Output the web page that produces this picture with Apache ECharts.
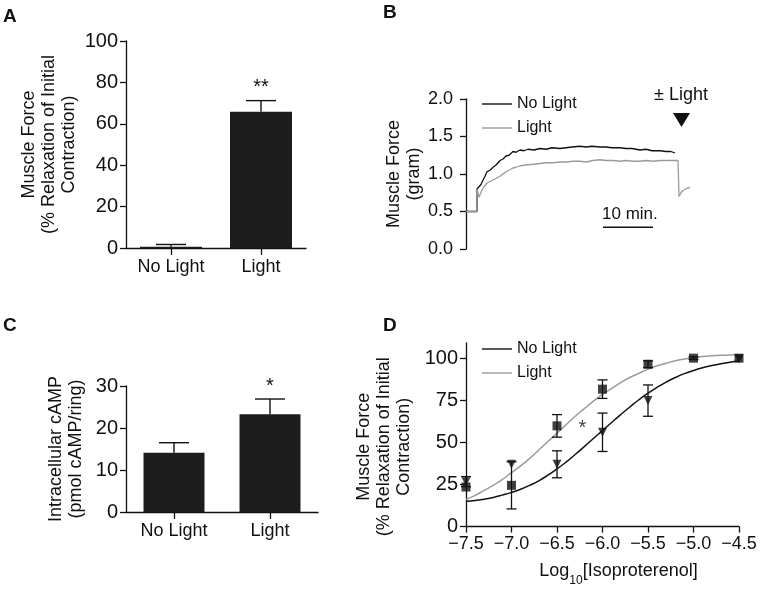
<!DOCTYPE html>
<html><head><meta charset="utf-8">
<script src="https://cdn.jsdelivr.net/npm/echarts@6/dist/echarts.min.js"></script>
<style>html,body{margin:0;padding:0;background:#fff}#c{width:767px;height:589px}</style>
</head><body><div id="c"></div><script>
const FONT = '"Liberation Sans", Arial, Helvetica, sans-serif';
const INK = '#111';
const GRAY = '#9a9a9a';

// Panel A
const categories = ['No Light', 'Light'];
const relaxMean = [0.6, 65.8];
const relaxSem = [1.1, 5.4];
const relaxSig = ['', '**'];

// Panel B (time in minutes, force in gram)
const traceTimeNoLight = [0,1.0,2.2,2.2,2.6,3.0,3.4,3.8,4.2,4.8,5.4,6.0,6.8,7.4,8.0,8.6,9.4,10.0,10.8,11.6,12.4,13.6,14.8,16.0,17.2,18.8,20.0,21.2,22.8,24.0,25.2,26.8,28.0,29.2,30.8,32.0,33.2,34.8,36.0,37.2,38.8,40.0,41.0,41.8];
const traceNoLight = [0.50,0.50,0.50,0.80,0.81,0.86,0.92,0.97,1.03,1.05,1.09,1.12,1.18,1.20,1.24,1.25,1.30,1.29,1.32,1.31,1.33,1.32,1.34,1.33,1.35,1.34,1.35,1.36,1.37,1.36,1.37,1.36,1.36,1.35,1.35,1.34,1.34,1.32,1.33,1.31,1.31,1.30,1.30,1.28];
const traceTimeLight = [0,1.0,2.2,2.2,2.6,3.2,3.6,4.2,4.8,5.4,6.0,6.8,7.4,8.0,8.6,9.4,10.0,10.8,12.0,13.4,14.8,16.0,17.4,18.8,20.0,21.4,22.8,24.0,25.4,26.8,28.0,29.4,30.8,32.0,33.4,34.8,36.0,37.4,38.8,40.0,41.4,42.4,42.6,43.0,43.4,44.2,44.8];
const traceLight = [0.50,0.50,0.50,0.80,0.69,0.79,0.83,0.88,0.90,0.92,0.94,0.97,1.00,1.03,1.05,1.08,1.09,1.11,1.12,1.13,1.14,1.15,1.15,1.16,1.16,1.17,1.17,1.16,1.18,1.19,1.18,1.18,1.17,1.18,1.17,1.17,1.18,1.17,1.18,1.18,1.18,1.18,0.70,0.75,0.78,0.81,0.82];
const scaleBarTime = [27.4, 37.4];
const scaleBarLevel = 0.29;

// Panel C
const campMean = [14.1, 23.3];
const campSem = [2.4, 3.6];
const campSig = ['', '*'];

// Panel D
const logConc = [-7.5, -7.0, -6.5, -6.0, -5.5, -5.0, -4.5];
const lightMean = [23.5, 24.5, 59.8, 81.6, 96.4, 100.0, 100.0];
const lightSem = [0, 14.0, 6.7, 5.5, 2.0, 0.8, 0];
const noLightMean = [26.7, 37.0, 37.0, 56.0, 74.8, null, 99.5];
const noLightSem = [3.0, 0, 8.0, 11.4, 9.3, null, 0];
const fitX = [-7.5,-7.4,-7.3,-7.2,-7.1,-7.0,-6.9,-6.8,-6.7,-6.6,-6.5,-6.4,-6.3,-6.2,-6.1,-6.0,-5.9,-5.8,-5.7,-5.6,-5.5,-5.4,-5.3,-5.2,-5.1,-5.0,-4.9,-4.8,-4.7,-4.6,-4.5];
const fitLight = [16,18.5,21.5,24.5,28,32,36,40.5,45.5,50.5,55.5,60.5,65.5,70,74.5,78.5,82,85.5,88.5,91,93.5,95.5,97,98.5,99.5,100.3,101,101.4,101.7,101.9,102];
const fitNoLight = [15,15.5,16.3,17.3,18.7,20.3,22.2,24.5,27.2,30.5,34.2,38.3,42.8,47.5,52.3,57,61.8,66.5,71,75.3,79.2,82.7,85.8,88.5,90.8,92.7,94.3,95.6,96.7,97.6,98.3];
const pctTicks = [0, 25, 50, 75, 100];
const starD = [-6.22, 58];

const chart = echarts.init(document.getElementById('c'), null, {renderer: 'canvas'});

const axisLine = {show: true, lineStyle: {color: INK, width: 1.3}};
const axisTickOut = {show: true, length: 6, lineStyle: {color: INK, width: 1.3}};

function barErr(sig, capHalf) {
  return function (params, api) {
    const i = api.value(0), m = api.value(1), h = api.value(2);
    const p0 = api.coord([i, m]), p1 = api.coord([i, h]);
    const st = {stroke: INK, lineWidth: 1.4};
    const ch = [
      {type: 'line', shape: {x1: p0[0], y1: p0[1], x2: p1[0], y2: p1[1]}, style: st},
      {type: 'line', shape: {x1: p1[0] - capHalf, y1: p1[1], x2: p1[0] + capHalf, y2: p1[1]}, style: st}
    ];
    const s = sig[params.dataIndex];
    if (s) ch.push({type: 'text', style: {text: s, x: p1[0], y: p1[1] - 3, align: 'center', verticalAlign: 'bottom', font: '20px ' + FONT, fill: INK}});
    return {type: 'group', children: ch};
  };
}
function ptErr(params, api) {
  const x = api.value(0), lo = api.value(1), hi = api.value(2);
  const a = api.coord([x, lo]), b = api.coord([x, hi]);
  const st = {stroke: INK, lineWidth: 1.3};
  const c = 5;
  return {type: 'group', children: [
    {type: 'line', shape: {x1: a[0], y1: a[1], x2: b[0], y2: b[1]}, style: st},
    {type: 'line', shape: {x1: a[0] - c, y1: a[1], x2: a[0] + c, y2: a[1]}, style: st},
    {type: 'line', shape: {x1: b[0] - c, y1: b[1], x2: b[0] + c, y2: b[1]}, style: st}
  ]};
}

const barErrA = categories.map((c, i) => [i, relaxMean[i], relaxMean[i] + relaxSem[i]]);
const barErrC = categories.map((c, i) => [i, campMean[i], campMean[i] + campSem[i]]);
const errD = [];
logConc.forEach((x, i) => {
  if (lightMean[i] != null && lightSem[i] > 0) errD.push([x, lightMean[i] - lightSem[i], lightMean[i] + lightSem[i]]);
  if (noLightMean[i] != null && noLightSem[i] > 0) errD.push([x, noLightMean[i] - noLightSem[i], noLightMean[i] + noLightSem[i]]);
});

const legendCommon = {orient: 'vertical', icon: 'rect', itemWidth: 30, itemHeight: 1.4, itemGap: 8, selectedMode: false,
  data: ['No Light', 'Light'], textStyle: {fontSize: 16, fontFamily: FONT, color: INK, lineHeight: 16}};

const option = {
  animation: false,
  textStyle: {fontFamily: FONT, color: INK},
  grid: [
    {left: 126, top: 41, width: 180, height: 207},
    {left: 466, top: 99, width: 225, height: 150},
    {left: 126, top: 386, width: 192, height: 126},
    {left: 466, top: 343, width: 273, height: 183.6}
  ],
  legend: [
    Object.assign({left: 477, top: 91}, legendCommon),
    Object.assign({left: 477, top: 336}, legendCommon)
  ],
  xAxis: [
    {gridIndex: 0, type: 'category', data: categories, axisLine, axisTick: {show: true, alignWithLabel: true, length: 7, lineStyle: {color: INK, width: 1.3}},
     axisLabel: {fontSize: 18, color: INK, margin: 10, fontFamily: FONT}},
    {gridIndex: 1, type: 'value', min: 0, max: 45, show: false},
    {gridIndex: 2, type: 'category', data: categories, axisLine, axisTick: {show: true, alignWithLabel: true, length: 7, lineStyle: {color: INK, width: 1.3}},
     axisLabel: {fontSize: 18, color: INK, margin: 10, fontFamily: FONT}},
    {gridIndex: 3, type: 'value', min: -7.5, max: -4.5, interval: 0.5, axisLine, axisTick: axisTickOut, splitLine: {show: false},
     axisLabel: {fontSize: 18, color: INK, margin: 8, fontFamily: FONT, formatter: v => v.toFixed(1).replace('-', '\u2212')},
     name: 'Log{sub|10}[Isoproterenol]', nameLocation: 'middle', nameGap: 28,
     nameTextStyle: {fontSize: 18, color: INK, fontFamily: FONT, padding: [0, 0, 0, 32], lineHeight: 20, verticalAlign: 'top',
       rich: {sub: {fontSize: 12, fontFamily: FONT, color: INK, verticalAlign: 'bottom', lineHeight: 32}}}}
  ],
  yAxis: [
    {gridIndex: 0, type: 'value', min: 0, max: 100, interval: 20, axisLine, axisTick: axisTickOut, splitLine: {show: false},
     axisLabel: {fontSize: 20, color: INK, margin: 8, fontFamily: FONT},
     name: 'Muscle Force\n(% Relaxation of Initial\nContraction)', nameLocation: 'middle', nameRotate: 90, nameGap: 47,
     nameTextStyle: {fontSize: 18, color: INK, lineHeight: 20, fontFamily: FONT}},
    {gridIndex: 1, type: 'value', min: 0, max: 2, interval: 0.5, axisLine, axisTick: axisTickOut, splitLine: {show: false},
     axisLabel: {fontSize: 18, color: INK, margin: 13, fontFamily: FONT, formatter: v => v.toFixed(1)},
     name: 'Muscle Force\n(gram)', nameLocation: 'middle', nameRotate: 90, nameGap: 42,
     nameTextStyle: {fontSize: 18, color: INK, lineHeight: 20, fontFamily: FONT}},
    {gridIndex: 2, type: 'value', min: 0, max: 30, interval: 10, axisLine, axisTick: axisTickOut, splitLine: {show: false},
     axisLabel: {fontSize: 20, color: INK, margin: 8, fontFamily: FONT},
     name: 'Intracellular cAMP\n(pmol cAMP/ring)', nameLocation: 'middle', nameRotate: 90, nameGap: 40,
     nameTextStyle: {fontSize: 18, color: INK, lineHeight: 20, fontFamily: FONT}},
    {gridIndex: 3, type: 'value', min: 0, max: 109, axisLine, splitLine: {show: false},
     axisTick: {show: true, length: 6, lineStyle: {color: INK, width: 1.3}, customValues: pctTicks},
     axisLabel: {fontSize: 20, color: INK, margin: 8, fontFamily: FONT, customValues: pctTicks},
     name: 'Muscle Force\n(% Relaxation of Initial\nContraction)', nameLocation: 'middle', nameRotate: 90, nameGap: 52,
     nameTextStyle: {fontSize: 18, color: INK, lineHeight: 20, fontFamily: FONT, padding: [0, 24, 0, 0]}}
  ],
  series: [
    {type: 'bar', xAxisIndex: 0, yAxisIndex: 0, data: relaxMean, barWidth: 62, itemStyle: {color: '#1c1c1c'}, z: 2},
    {type: 'custom', xAxisIndex: 0, yAxisIndex: 0, data: barErrA, renderItem: barErr(relaxSig, 15), z: 3},
    {type: 'line', name: 'No Light', xAxisIndex: 1, yAxisIndex: 1, data: traceTimeNoLight.map((t, i) => [t, traceNoLight[i]]),
     showSymbol: false, symbol: 'none', lineStyle: {color: INK, width: 1.3}, itemStyle: {color: INK}},
    {type: 'line', name: 'Light', xAxisIndex: 1, yAxisIndex: 1, data: traceTimeLight.map((t, i) => [t, traceLight[i]]),
     showSymbol: false, symbol: 'none', lineStyle: {color: GRAY, width: 1.3}, itemStyle: {color: GRAY}},
    {type: 'line', name: 'scale', xAxisIndex: 1, yAxisIndex: 1, data: scaleBarTime.map(t => [t, scaleBarLevel]),
     symbol: 'none', lineStyle: {color: INK, width: 1.3}},
    {type: 'bar', xAxisIndex: 2, yAxisIndex: 2, data: campMean, barWidth: 61, itemStyle: {color: '#1c1c1c'}, z: 2},
    {type: 'custom', xAxisIndex: 2, yAxisIndex: 2, data: barErrC, renderItem: barErr(campSig, 15), z: 3},
    {type: 'line', name: 'No Light', xAxisIndex: 3, yAxisIndex: 3, data: fitX.map((x, i) => [x, fitNoLight[i]]),
     smooth: true, symbol: 'none', lineStyle: {color: INK, width: 1.5}, itemStyle: {color: INK}, z: 2},
    {type: 'line', name: 'Light', xAxisIndex: 3, yAxisIndex: 3, data: fitX.map((x, i) => [x, fitLight[i]]),
     smooth: true, symbol: 'none', lineStyle: {color: GRAY, width: 1.5}, itemStyle: {color: GRAY}, z: 2},
    {type: 'custom', xAxisIndex: 3, yAxisIndex: 3, data: errD, renderItem: ptErr, z: 3},
    {type: 'scatter', name: 'No Light points', xAxisIndex: 3, yAxisIndex: 3,
     data: logConc.map((x, i) => [x, noLightMean[i]]).filter(d => d[1] != null),
     symbol: 'triangle', symbolRotate: 180, symbolSize: 9, itemStyle: {color: INK}, z: 4},
    {type: 'scatter', name: 'Light points', xAxisIndex: 3, yAxisIndex: 3,
     data: logConc.map((x, i) => [x, lightMean[i]]),
     symbol: 'rect', symbolSize: 9, itemStyle: {color: INK}, z: 5},
    {type: 'scatter', name: 'sig', xAxisIndex: 3, yAxisIndex: 3, data: [starD], symbolSize: 0,
     label: {show: true, formatter: '*', position: 'inside', fontSize: 20, color: INK, fontFamily: FONT}}
  ],
  graphic: [
    {type: 'text', left: 3, top: 7, style: {text: 'A', font: 'bold 19px ' + FONT, fill: INK}},
    {type: 'text', left: 383, top: 3, style: {text: 'B', font: 'bold 19px ' + FONT, fill: INK}},
    {type: 'text', left: 3, top: 316, style: {text: 'C', font: 'bold 19px ' + FONT, fill: INK}},
    {type: 'text', left: 383, top: 316, style: {text: 'D', font: 'bold 19px ' + FONT, fill: INK}},
    {type: 'text', left: 654, top: 86, style: {text: '\u00b1 Light', font: '18px ' + FONT, fill: INK}},
    {type: 'polygon', shape: {points: [[673, 113], [690, 113], [681.5, 127]]}, style: {fill: INK}},
    {type: 'text', left: 602, top: 206, style: {text: '10 min.', font: '17px ' + FONT, fill: INK}}
  ]
};
chart.setOption(option);
</script></body></html>
